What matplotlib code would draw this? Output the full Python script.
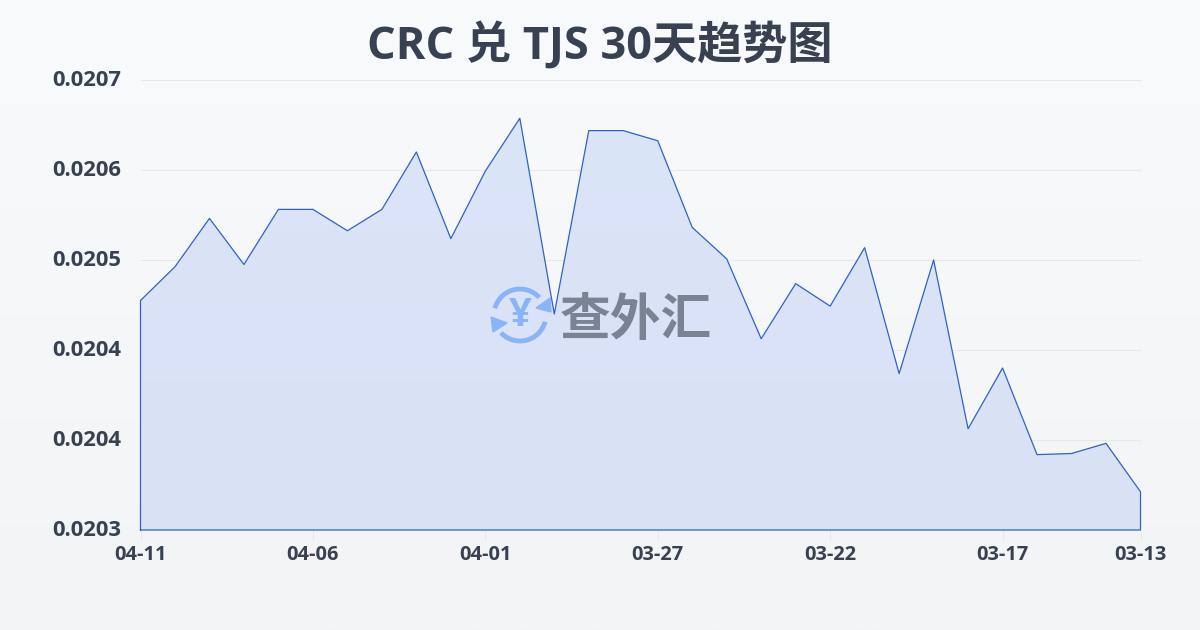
import numpy as np
import matplotlib.pyplot as plt
from matplotlib.patches import Arc, Polygon
from matplotlib.colors import LinearSegmentedColormap
from matplotlib.transforms import ScaledTranslation

plt.rcParams['font.family'] = ['Open Sans', 'Noto Sans CJK SC']

# newest first, same as the chart
dates = ['04-11', '04-10', '04-09', '04-08', '04-07', '04-06', '04-05', '04-04', '04-03', '04-02',
         '04-01', '03-31', '03-30', '03-29', '03-28', '03-27', '03-26', '03-25', '03-24', '03-23',
         '03-22', '03-21', '03-20', '03-19', '03-18', '03-17', '03-16', '03-15', '03-14', '03-13']
rates = [0.020504, 0.020534, 0.020577, 0.020536, 0.020585, 0.020585, 0.020566, 0.020585, 0.020636, 0.020559,
         0.020619, 0.020666, 0.020492, 0.020655, 0.020655, 0.020646, 0.020569, 0.020541, 0.020470, 0.020519,
         0.020499, 0.020551, 0.020439, 0.020540, 0.020390, 0.020444, 0.020367, 0.020368, 0.020377, 0.020334]
y_ticks = [0.0207, 0.02062, 0.02054, 0.02046, 0.02038, 0.0203]
y_labels = ['0.0207', '0.0206', '0.0205', '0.0204', '0.0204', '0.0203']
x_ticks = [0, 5, 10, 15, 20, 25, 29]

dark = '#374151'
line_color = '#2f62c8'
ax_rect = [140.5 / 1200, 100 / 630, 1000 / 1200, 450 / 630]

fig = plt.figure(figsize=(12, 6.3), dpi=100)

# page background gradient
bg = fig.add_axes([0, 0, 1, 1], zorder=0)
bg_cmap = LinearSegmentedColormap.from_list('bg', ['#f8fafc', '#f3f4f6'])
bg.imshow(np.linspace(0, 1, 256).reshape(-1, 1), aspect='auto', cmap=bg_cmap, extent=[0, 1200, 630, 0])
bg.axis('off')

ax = fig.add_axes(ax_rect, zorder=1)
ax.patch.set_alpha(0)
x = np.arange(len(rates))

ax.set_yticks(y_ticks)
ax.set_yticklabels(y_labels, fontsize=15.8, fontweight='bold', color=dark)
ax.set_xticks(x_ticks)
ax.set_xticklabels([dates[i] for i in x_ticks], fontsize=14.4, fontweight='bold', color=dark)
ax.tick_params(axis='y', length=0, pad=14)
ax.tick_params(axis='x', length=7, width=0.8, color='#e5e7eb', pad=3.5)
ax.grid(axis='y', color='#e5e7eb', linewidth=0.8)
ax.set_axisbelow(True)
for s in ax.spines.values():
    s.set_visible(False)
# y labels sit about 2px above their gridlines
for lab in ax.get_yticklabels():
    lab.set_transform(lab.get_transform() + ScaledTranslation(0, 2 / 100, fig.dpi_scale_trans))

# fill fades slightly towards the bottom
fill = ax.fill_between(x, rates, 0.0203, color='none')
grad_cmap = LinearSegmentedColormap.from_list('fill', ['#dbe5f8', '#d9e1f5'])
im = ax.imshow(np.linspace(0, 1, 256).reshape(-1, 1), aspect='auto', cmap=grad_cmap,
               extent=[0, 29, 0.0203, 0.0207], zorder=1.5)
im.set_clip_path(fill.get_paths()[0], transform=ax.transData)
ax.set_xlim(0, 29)
ax.set_ylim(0.0203, 0.0207)

# watermark logo, in pixel coordinates
logo = fig.add_axes([0, 0, 1, 1], zorder=2)
logo.set_xlim(0, 1200)
logo.set_ylim(630, 0)
logo.axis('off')
blue = '#8ab4f8'
logo.add_patch(Arc((520, 315), 52, 52, theta1=195, theta2=318, color=blue, linewidth=3.5))
logo.add_patch(Arc((520, 315), 52, 52, theta1=15, theta2=137, color=blue, linewidth=3.5))
logo.add_patch(Polygon([[550, 298], [551, 312], [536, 308]], color=blue))
logo.add_patch(Polygon([[491, 317], [507, 323], [493, 332]], color=blue))
logo.text(520, 316, '¥', fontsize=29, fontweight='bold', color=blue, ha='center', va='center')
logo.text(636, 320, '查外汇', fontsize=36.5, fontweight='bold', color='#7a8294', ha='center', va='center',
          family=['Noto Sans CJK SC', 'DejaVu Sans'])

# outline sits on top of the logo and is closed along the baseline
ax_line = fig.add_axes(ax_rect, zorder=3)
ax_line.axis('off')
ax_line.plot(np.r_[0, x, 29, 0], np.r_[0.0203, rates, 0.0203, 0.0203], color=line_color, linewidth=0.9,
             clip_on=False)
ax_line.set_xlim(0, 29)
ax_line.set_ylim(0.0203, 0.0207)

fig.text(600 / 1200, 1 - 47 / 630, 'CRC 兑 TJS 30天趋势图', fontsize=32.5, fontweight='bold', color=dark,
         ha='center', va='center')

fig.savefig('out.png', dpi=100)
